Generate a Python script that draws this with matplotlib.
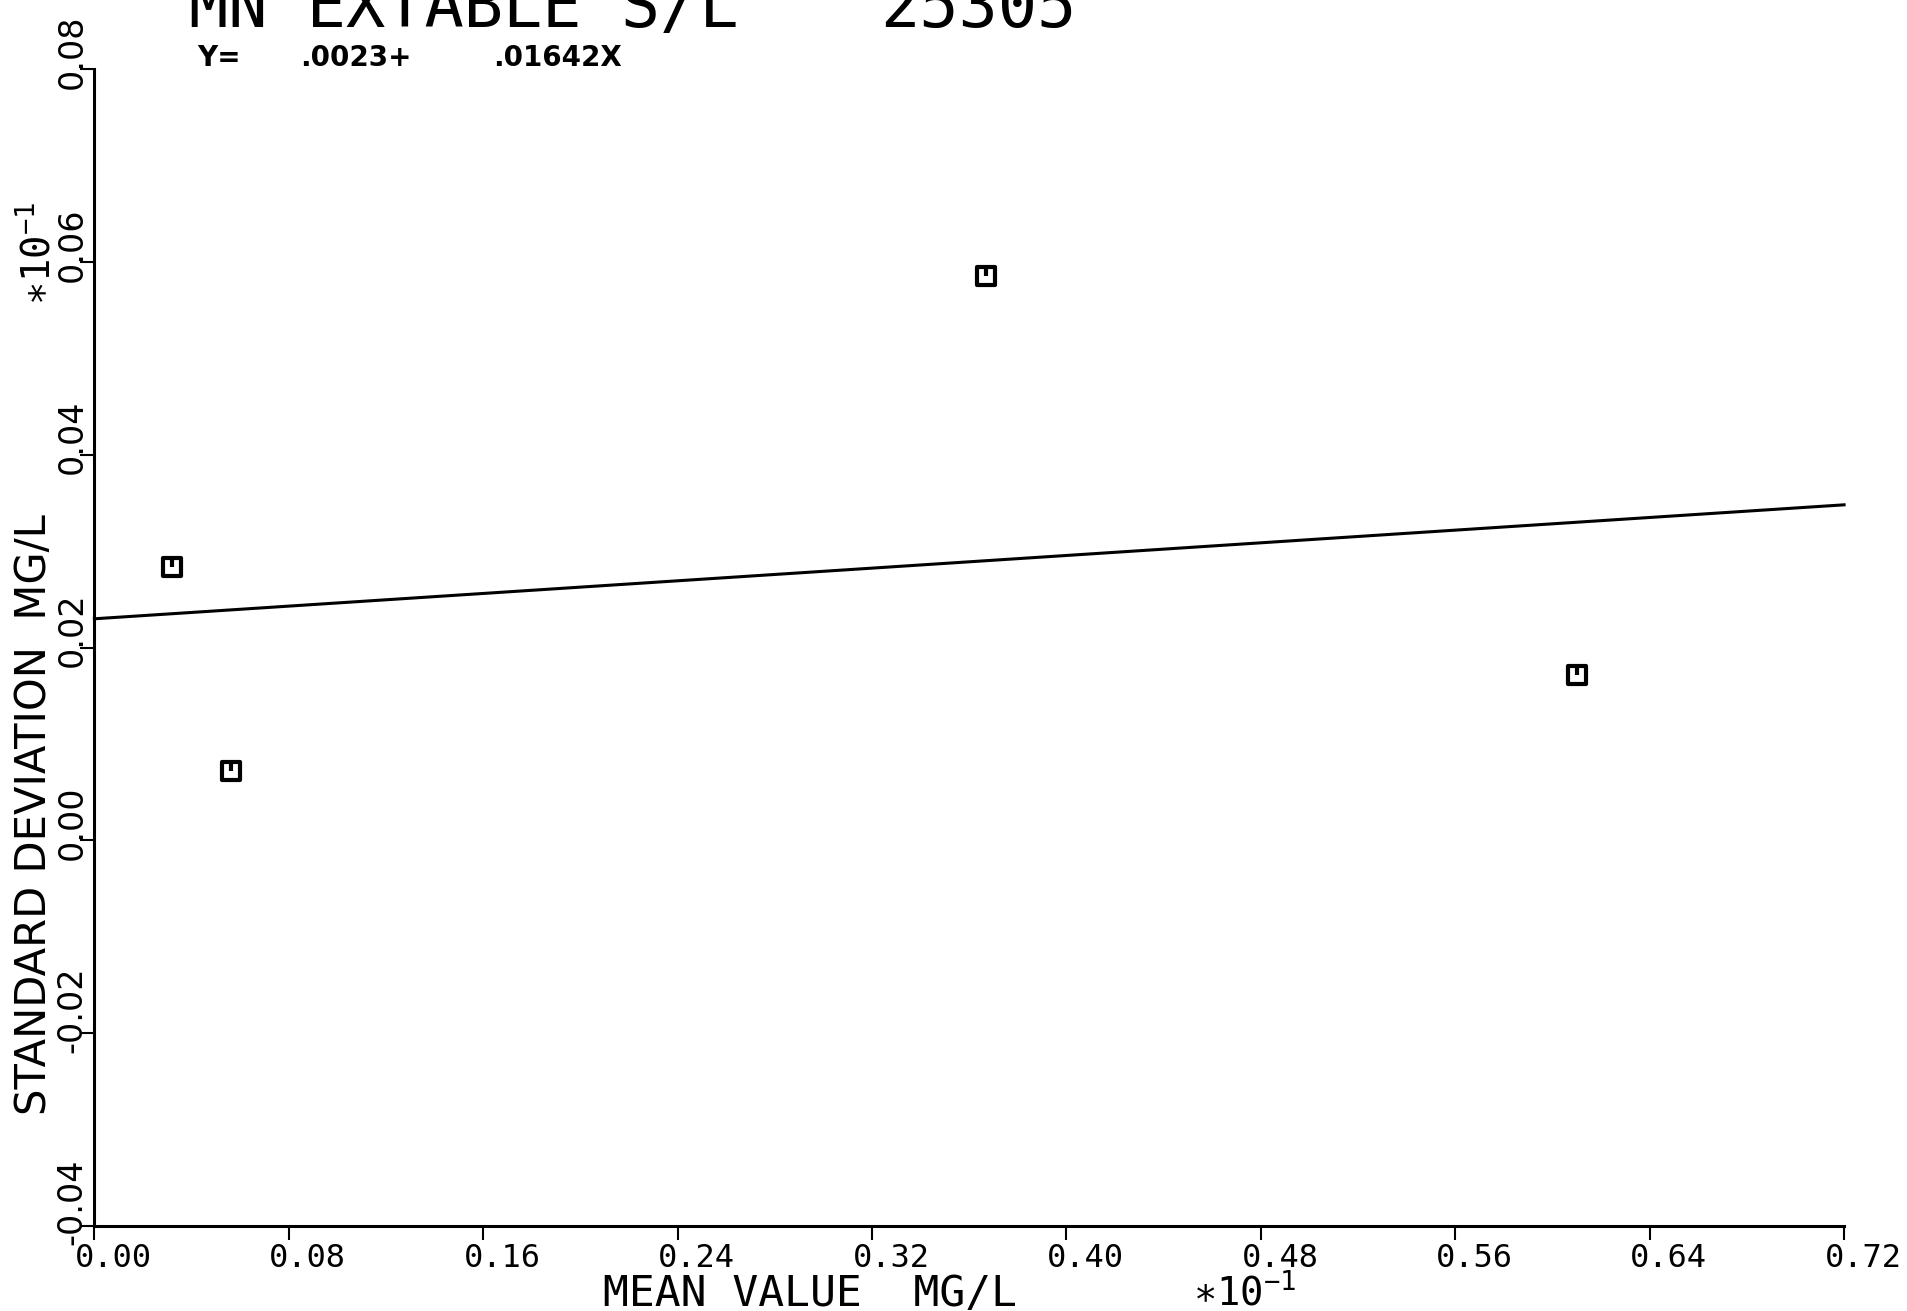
import numpy as np
import matplotlib.pyplot as plt
from matplotlib.path import Path
from matplotlib.transforms import offset_copy

# old pen-plotter look: monospaced letters across, narrower ones up the side
plt.rcParams['font.family'] = ['DejaVu Sans Mono', 'DejaVu Sans']
plt.rcParams['mathtext.fontset'] = 'custom'
plt.rcParams['mathtext.rm'] = 'DejaVu Sans Mono'
plt.rcParams['mathtext.it'] = 'DejaVu Sans Mono'
plt.rcParams['mathtext.bf'] = 'DejaVu Sans Mono:bold'

# data, in displayed units (both axes are *10^-1)
mean_value = [0.0321, 0.0561, 0.367, 0.6101]
std_dev = [0.0284, 0.0072, 0.0586, 0.0172]
intercept = 0.0023
slope = 0.01642
x_ticks = [0.00, 0.08, 0.16, 0.24, 0.32, 0.40, 0.48, 0.56, 0.64, 0.72]
y_ticks = [-0.04, -0.02, 0.00, 0.02, 0.04, 0.06, 0.08]
title = 'MN EXTABLE S/L'
sample_id = '25305'

fig = plt.figure(figsize=(19.07, 13.11), dpi=100)
ax = fig.add_axes([0.0495, 0.0648, 0.9175, 0.8823])
ax.set_xlim(0, 0.72)
ax.set_ylim(-0.04, 0.08)

# regression line (equation is in real units, axes are *10^-1)
xl = np.array([0.0, 0.72])
yl = (intercept + slope * xl * 0.1) / 0.1
ax.plot(xl, yl, color='black', lw=2.2, clip_on=False)

# plotter symbol: square with a short tick from the top
sym = Path([(-0.5, -0.5), (0.5, -0.5), (0.5, 0.5), (-0.5, 0.5), (-0.5, -0.5),
            (0, 0.5), (0, 0.0)],
           [Path.MOVETO, Path.LINETO, Path.LINETO, Path.LINETO, Path.CLOSEPOLY,
            Path.MOVETO, Path.LINETO])
ax.plot(mean_value, std_dev, ls='none', marker=sym, ms=13, mfc='none',
        mec='black', mew=3)

for s in ['top', 'right']:
    ax.spines[s].set_visible(False)
for s in ['left', 'bottom']:
    ax.spines[s].set_linewidth(2.2)
ax.set_xticks(x_ticks)
ax.set_yticks(y_ticks)
ax.tick_params(direction='out', length=10, width=1.5, labelleft=False, labelbottom=False)

# tick labels drawn by hand, like the old plotter
for v in x_ticks:
    tr = offset_copy(ax.get_xaxis_transform(), fig=fig, x=-14, y=-12, units='points')
    ax.text(v, 0, '%.2f' % v, transform=tr, ha='left', va='top', fontsize=23)
for v in y_ticks:
    tr = offset_copy(ax.get_yaxis_transform(), fig=fig, x=-4, y=-14, units='points')
    ax.text(0, v, '%.2f' % v, transform=tr, ha='right', va='bottom',
            rotation=90, fontsize=24, family='DejaVu Sans')

# axis labels
fig.text(0.0241, 0.3783, 'STANDARD DEVIATION  MG/L', rotation=90, rotation_mode='anchor',
         ha='center', va='baseline', fontsize=30, family='DejaVu Sans')
fig.text(0.0265, 0.807, r'$\ast$10$^{-1}$', rotation=90, rotation_mode='anchor',
         ha='center', va='baseline', fontsize=28)
fig.text(0.4249, 0.004, 'MEAN VALUE  MG/L', ha='center', va='baseline', fontsize=31)
fig.text(0.6256, 0.004, r'$\ast$10$^{-1}$', ha='left', va='baseline', fontsize=28)

# title, cut off at the top edge
fig.text(0.0989, 0.9794, title, ha='left', va='baseline', fontsize=47)
fig.text(0.4617, 0.9794, sample_id, ha='left', va='baseline', fontsize=47)
eq_font = dict(family='DejaVu Sans', fontsize=20, fontweight='bold', va='center', ha='left')
fig.text(0.1033, 0.9554, 'Y=', **eq_font)
fig.text(0.1573, 0.9554, '.0023+', **eq_font)
fig.text(0.2585, 0.9554, '.01642X', **eq_font)

fig.savefig('out.png', dpi=100, facecolor='white')
